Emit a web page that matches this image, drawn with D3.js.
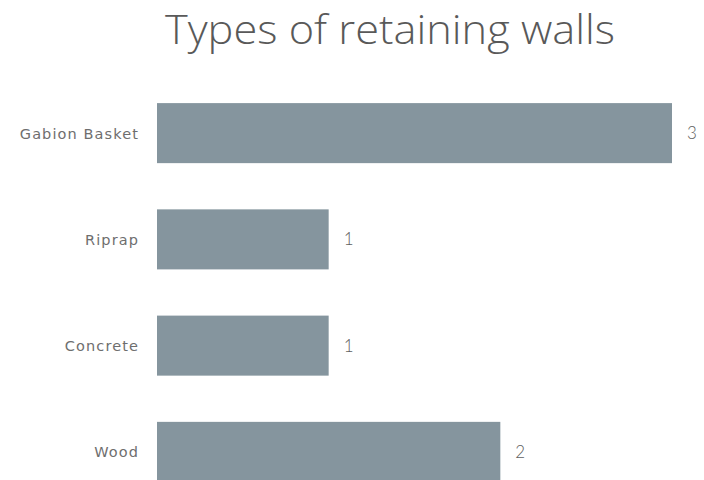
<!DOCTYPE html>
<html><head><meta charset="utf-8">
<script src="https://cdn.jsdelivr.net/npm/d3@7"></script>
<style>body{margin:0;background:#fff}svg{display:block}</style>
</head><body>
<script>
const categories = ["Gabion Basket", "Riprap", "Concrete", "Wood"];
const values = [3, 1, 1, 2];
const title = "Types of retaining walls";

const W = 704, H = 480;
const svg = d3.select("body").append("svg").attr("width", W).attr("height", H);

const x = d3.scaleLinear().domain([0, 3]).range([157, 672]);
const y = d3.scaleBand().domain(categories).range([80, 505]).paddingInner(0.435).paddingOuter(0.2175);

svg.append("text").attr("x", 390).attr("y", 44).attr("text-anchor", "middle")
  .attr("font-family", "Open Sans, sans-serif").attr("font-weight", 300)
  .attr("font-size", 40).attr("fill", "#595959")
  .attr("textLength", 450).attr("lengthAdjust", "spacingAndGlyphs")
  .text(title);

svg.selectAll("rect.bar").data(categories).enter().append("rect")
  .attr("class", "bar")
  .attr("x", x(0)).attr("y", d => y(d))
  .attr("width", (d, i) => x(values[i]) - x(0))
  .attr("height", y.bandwidth()).attr("fill", "#85959e");

const axis = d3.axisLeft(y).tickSize(0).tickPadding(18);
const g = svg.append("g").attr("transform", `translate(${x(0)},0)`).call(axis);
g.select(".domain").remove();
g.selectAll("text").attr("font-family", "DejaVu Sans, sans-serif").attr("font-size", 14.5)
  .attr("fill", "#6e6e6e").attr("letter-spacing", 1.1).attr("dy", "0.37em");

svg.selectAll("text.val").data(categories).enter().append("text")
  .attr("class", "val")
  .attr("x", (d, i) => x(values[i]) + 15)
  .attr("y", d => y(d) + y.bandwidth() / 2)
  .attr("dy", "0.35em")
  .attr("font-family", "Lato, sans-serif").attr("font-weight", 300).attr("font-size", 17)
  .attr("fill", "#606060")
  .text((d, i) => values[i]);
</script>
</body></html>
